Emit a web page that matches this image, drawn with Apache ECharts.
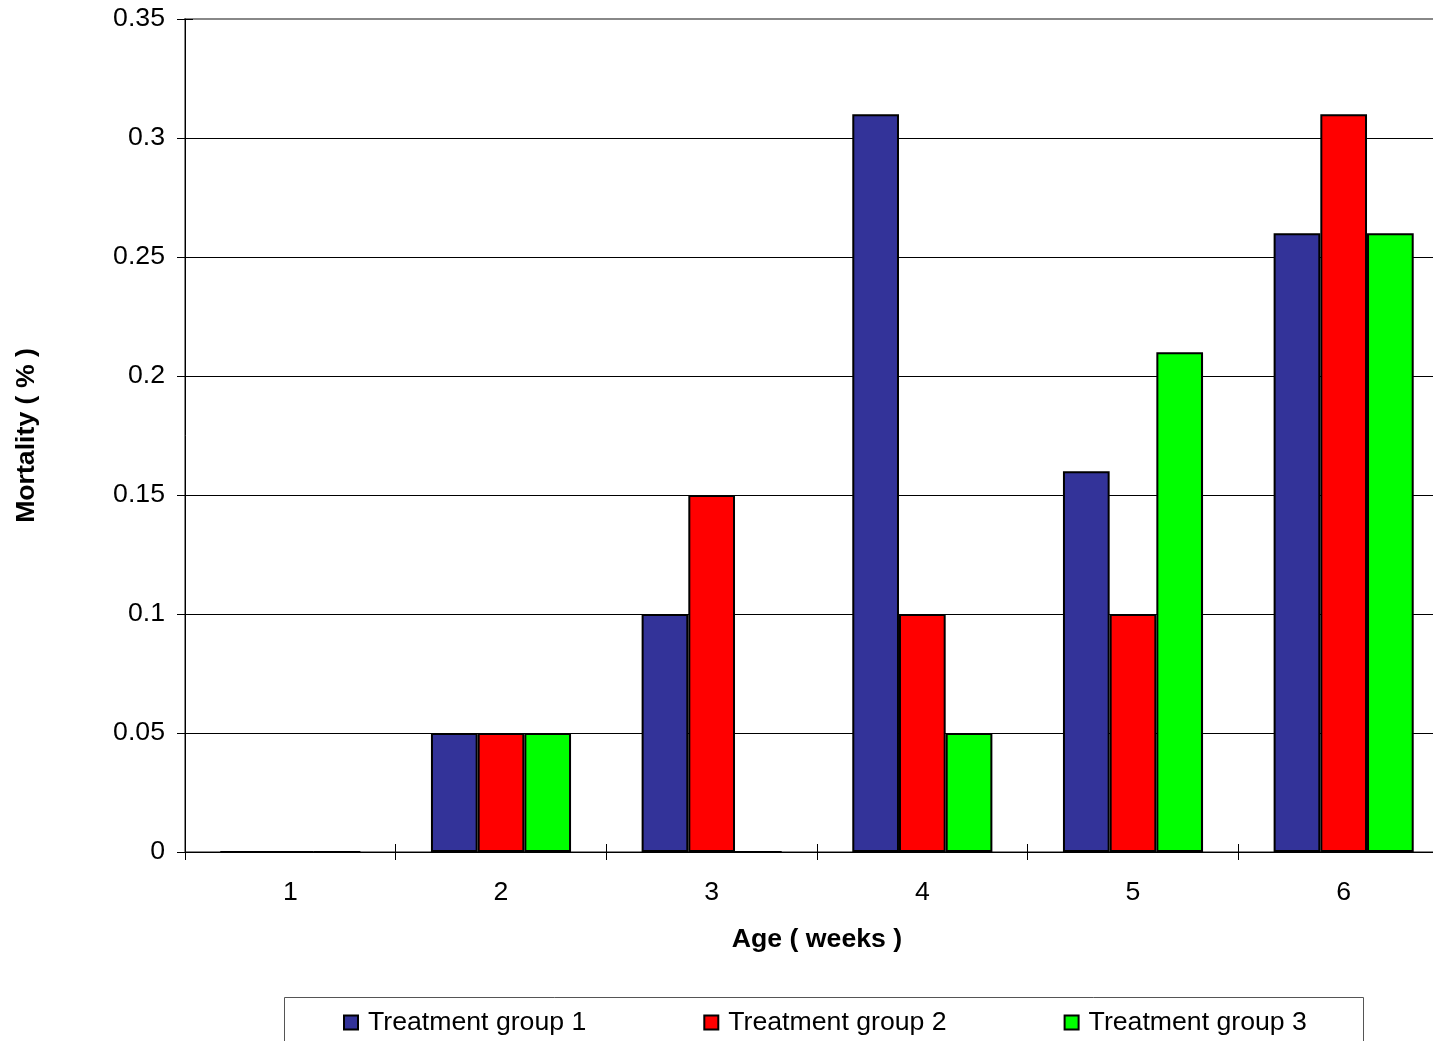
<!DOCTYPE html>
<html>
<head>
<meta charset="utf-8">
<script src="https://cdn.jsdelivr.net/npm/echarts@6/dist/echarts.min.js"></script>
<style>
html,body{margin:0;padding:0;background:#fff;overflow:hidden;}
#chart{width:1460px;height:1041px;}
</style>
</head>
<body>
<div id="chart"></div>
<script>
var categories = ['1', '2', '3', '4', '5', '6'];
var seriesNames = ['Treatment group 1', 'Treatment group 2', 'Treatment group 3'];
var group1 = [0, 0.05, 0.10, 0.31, 0.16, 0.26];
var group2 = [0, 0.05, 0.15, 0.10, 0.10, 0.31];
var group3 = [0, 0.05, 0, 0.05, 0.21, 0.26];
var colors = ['#333399', '#FF0000', '#00FF00'];
var yMin = 0, yMax = 0.35, yStep = 0.05;

var FONT = '"Liberation Sans", Arial, sans-serif';
var FS = 26.67;
var chart = echarts.init(document.getElementById('chart'), null, {renderer: 'canvas'});

function bar(name, data, color) {
  return {
    name: name, type: 'bar', data: data,
    barGap: '0%', barCategoryGap: '33.5%',
    itemStyle: {color: color, borderColor: '#000', borderWidth: 2},
    animation: false
  };
}

chart.setOption({
  animation: false,
  textStyle: {fontFamily: FONT},
  grid: {left: 185, top: 19, width: 1264, height: 833, show: true, borderColor: '#888', borderWidth: 2, backgroundColor: 'transparent'},
  xAxis: [{
    type: 'category', data: categories,
    name: 'Age ( weeks )', nameLocation: 'middle', nameGap: 74,
    nameTextStyle: {fontSize: FS, fontWeight: 'bold', color: '#000', fontFamily: FONT},
    axisLine: {lineStyle: {color: '#000', width: 1}},
    axisTick: {show: true, length: 8, lineStyle: {color: '#000'}},
    axisLabel: {fontSize: FS, color: '#000', margin: 27, fontFamily: FONT},
    splitLine: {show: false}
  }, {
    type: 'category', data: categories, position: 'bottom',
    axisLine: {show: false},
    axisTick: {show: true, inside: true, length: 8, lineStyle: {color: '#000'}},
    axisLabel: {show: false}, splitLine: {show: false}
  }],
  yAxis: [{
    type: 'value', min: yMin, max: yMax, interval: yStep,
    name: 'Mortality ( % )', nameLocation: 'middle', nameGap: 145,
    nameTextStyle: {fontSize: FS, fontWeight: 'bold', color: '#000', fontFamily: FONT},
    axisLine: {show: true, lineStyle: {color: '#000', width: 1}},
    axisTick: {show: true, length: 8, lineStyle: {color: '#000'}},
    axisLabel: {fontSize: FS, color: '#000', margin: 20, fontFamily: FONT},
    splitLine: {show: true, lineStyle: {color: ['#000','#000','#000','#000','#000','#000','#000','transparent'], width: 1}}
  }, {
    type: 'value', min: yMin, max: yMax, interval: yStep, position: 'left',
    axisLine: {show: false},
    axisTick: {show: true, inside: true, length: 8, lineStyle: {color: '#000'}},
    axisLabel: {show: false}, splitLine: {show: false}
  }],
  legend: {
    left: 343, top: 1009, padding: 0, itemGap: 117, itemWidth: 14, itemHeight: 14, icon: 'rect',
    textStyle: {fontSize: FS, color: '#000', fontFamily: FONT, padding: [0, 0, 0, 5]},
    data: seriesNames, selectedMode: false
  },
  graphic: [{
    type: 'rect', left: 284, top: 997, z: -1,
    shape: {width: 1079, height: 60},
    style: {fill: 'transparent', stroke: '#555', lineWidth: 1}
  }],
  series: [
    bar(seriesNames[0], group1, colors[0]),
    bar(seriesNames[1], group2, colors[1]),
    bar(seriesNames[2], group3, colors[2])
  ]
});
</script>
</body>
</html>
